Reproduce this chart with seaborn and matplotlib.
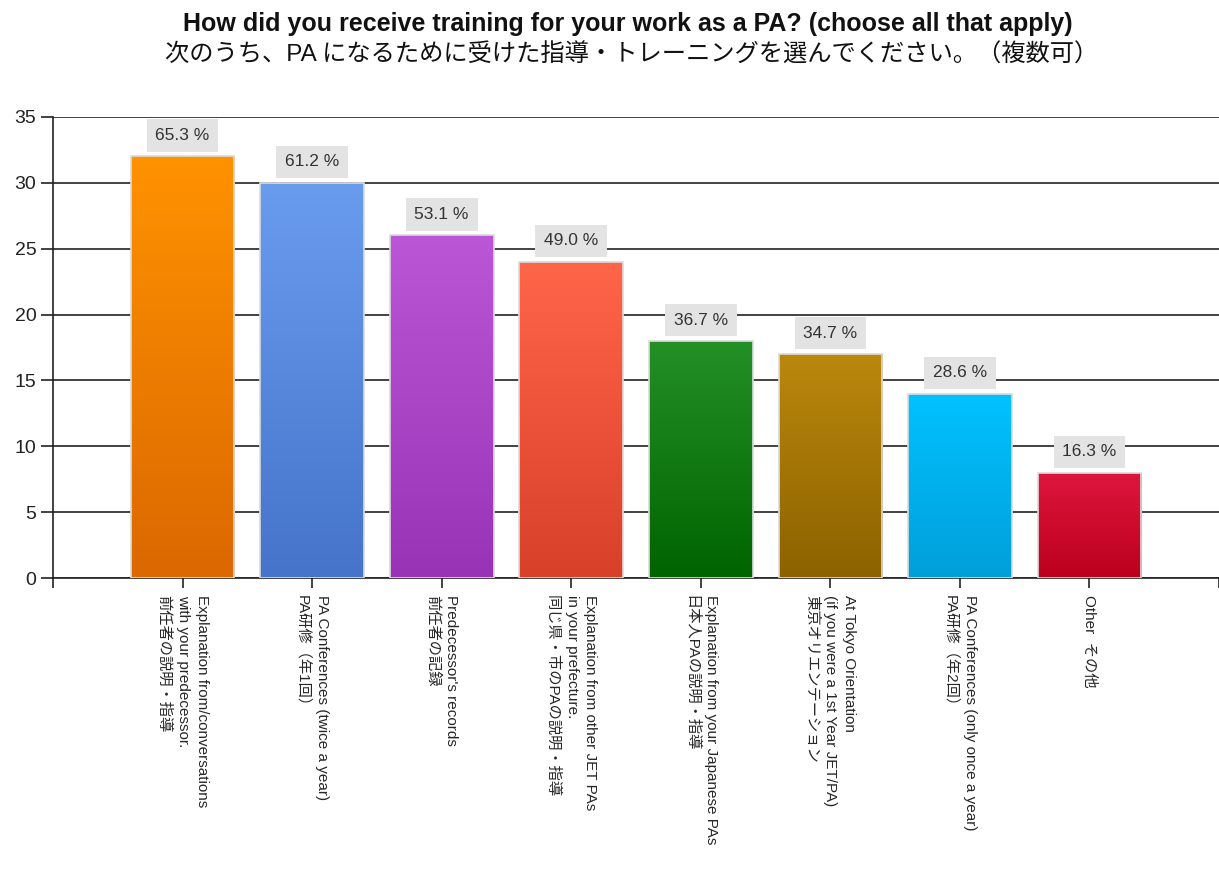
import numpy as np
import matplotlib
matplotlib.use("Agg")
import matplotlib.pyplot as plt
import matplotlib.colors as mcolors
import seaborn as sns

categories = [
    "Explanation from/conversations\nwith your predecessor.\n前任者の説明・指導",
    "PA Conferences (twice a year)\nPA研修（年1回）",
    "Predecessor's records\n前任者の記録",
    "Explanation from other JET PAs\nin your prefecture.\n同じ県・市のPAの説明・指導",
    "Explanation from your Japanese PAs\n日本人PAの説明・指導",
    "At Tokyo Orientation\n(if you were a 1st Year JET/PA)\n東京オリエンテーション",
    "PA Conferences (only once a year)\nPA研修（年2回）",
    "Other  その他",
]
counts = [32, 30, 26, 24, 18, 17, 14, 8]
percent_labels = ["65.3 %", "61.2 %", "53.1 %", "49.0 %", "36.7 %", "34.7 %", "28.6 %", "16.3 %"]

top_colors = ["#ff9200", "#6a9cee", "#bb57d6", "#ff6549", "#249026", "#bb880d", "#00c2ff", "#de163e"]
bottom_colors = ["#db6800", "#4574ca", "#9833b6", "#d9402a", "#006400", "#8c6200", "#009fda", "#bb001c"]

sns.set_style("white")
plt.rcParams["font.family"] = ["Liberation Sans", "Noto Sans CJK JP", "DejaVu Sans"]

fig = plt.figure(figsize=(12.19, 8.72), dpi=100)
ax = fig.add_axes([0.0435, 0.337, 0.9565, 0.529])

sns.barplot(x=categories, y=counts, hue=categories, palette=top_colors, legend=False,
            width=0.8, edgecolor="#dcdcdc", linewidth=1.2, ax=ax, zorder=3)

# vertical gradient fill on each bar
bars = sorted(ax.patches, key=lambda p: p.get_x())
for i, p in enumerate(bars):
    x0, w, h = p.get_x(), p.get_width(), p.get_height()
    c1 = np.array(mcolors.to_rgb(top_colors[i]))
    c2 = np.array(mcolors.to_rgb(bottom_colors[i]))
    t = np.linspace(0, 1, 128)[:, None]
    grad = (c1 * (1 - t) + c2 * t)[:, None, :]
    im = ax.imshow(grad, extent=(x0, x0 + w, 0, h), aspect="auto", origin="upper",
                   zorder=3.5, interpolation="bilinear")
    im.set_clip_path(p)
    p.set_facecolor("none")
    p.set_zorder(4)
    ax.annotate(percent_labels[i], (x0 + w / 2, h), xytext=(0, 15), textcoords="offset points",
                ha="center", va="center", fontsize=12.5, color="#333333", zorder=5,
                bbox=dict(boxstyle="square,pad=0.5", fc="#e3e3e3", ec="none"))

ax.set_xlim(-1, 8)
ax.set_ylim(0, 35)
ax.set_yticks(range(0, 36, 5))
ax.grid(axis="y", color="#222222", linewidth=1.2, zorder=0)
ax.grid(axis="x", visible=False)
for s in ["top", "right"]:
    ax.spines[s].set_visible(False)
for s in ["left", "bottom"]:
    ax.spines[s].set_color("#222222")
    ax.spines[s].set_linewidth(1.2)

ax.set_xticks(range(len(categories)))
ax.set_xticklabels(categories, rotation=-90, ha="center", va="top", multialignment="left",
                   fontsize=11, linespacing=1.45)
ax.set_xticks([-1, 8], minor=True)
ax.tick_params(axis="x", which="both", bottom=True, length=7, width=1.2, color="#222222", pad=5)
ax.tick_params(axis="y", left=True, length=9, width=1.2, color="#222222", pad=3,
               labelsize=14, labelcolor="#222222")
ax.set_xlabel("")
ax.set_ylabel("")

fig.text(0.515, 0.972, "How did you receive training for your work as a PA? (choose all that apply)",
         ha="center", va="center", fontsize=18, fontweight="bold", color="#111111")
fig.text(0.518, 0.937, "次のうち、PA になるために受けた指導・トレーニングを選んでください。（複数可）",
         ha="center", va="center", fontsize=17.5, color="#111111")

fig.savefig("out.png", dpi=100)
